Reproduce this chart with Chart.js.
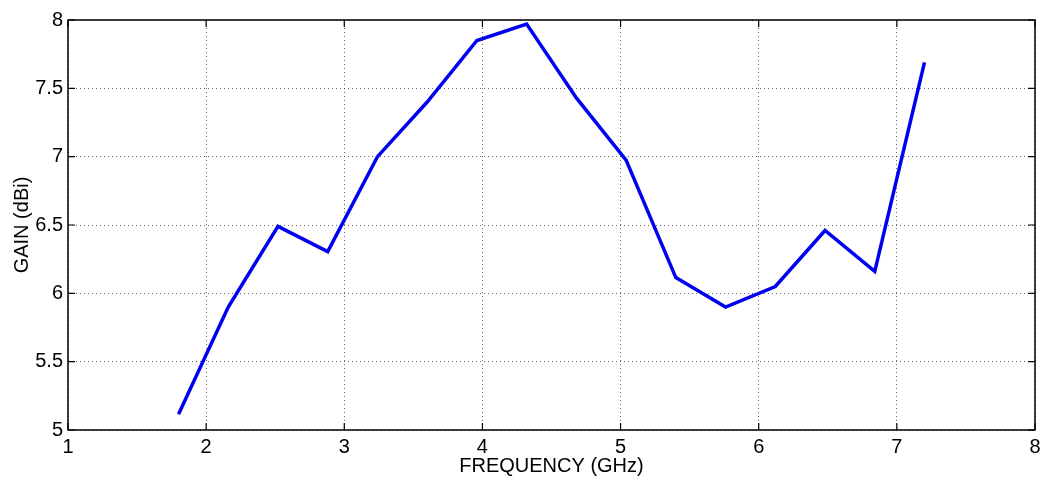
<!DOCTYPE html>
<html>
<head>
<meta charset="utf-8">
<script src="https://cdn.jsdelivr.net/npm/chart.js@4"></script>
<style>
html,body{margin:0;padding:0;background:#fff;}
#wrap{width:1041px;height:478px;}
</style>
</head>
<body>
<div id="wrap"><canvas id="c" width="1041" height="478"></canvas></div>
<script>
const freqGHz = [1.8, 2.16, 2.52, 2.88, 3.24, 3.6, 3.96, 4.32, 4.68, 5.04, 5.4, 5.76, 6.12, 6.48, 6.84, 7.2];
const gainDBi = [5.115, 5.90, 6.49, 6.305, 7.0, 7.40, 7.85, 7.97, 7.43, 6.975, 6.115, 5.90, 6.05, 6.46, 6.16, 7.69];
const xTitle = 'FREQUENCY (GHz)';
const yTitle = 'GAIN (dBi)';

const FONT = '"Liberation Sans", Arial, sans-serif';

const boxPlugin = {
  id: 'matlabBox',
  afterDatasetsDraw(chart) {
    const {ctx, chartArea: a, scales} = chart;
    ctx.save();
    ctx.strokeStyle = '#000';
    ctx.lineWidth = 1.2;
    const tl = 7;
    ctx.beginPath();
    scales.x.ticks.forEach(t => {
      const px = scales.x.getPixelForValue(t.value);
      ctx.moveTo(px, a.bottom); ctx.lineTo(px, a.bottom - tl);
      ctx.moveTo(px, a.top); ctx.lineTo(px, a.top + tl);
    });
    scales.y.ticks.forEach(t => {
      const py = scales.y.getPixelForValue(t.value);
      ctx.moveTo(a.left, py); ctx.lineTo(a.left + tl, py);
      ctx.moveTo(a.right, py); ctx.lineTo(a.right - tl, py);
    });
    ctx.stroke();
    ctx.lineWidth = 1.5;
    ctx.strokeRect(a.left, a.top, a.right - a.left, a.bottom - a.top);
    ctx.restore();
  }
};

new Chart(document.getElementById('c'), {
  type: 'line',
  data: {
    datasets: [{
      data: freqGHz.map((f, i) => ({x: f, y: gainDBi[i]})),
      borderColor: 'rgb(0,0,240)',
      borderWidth: 3.5,
      pointRadius: 0,
      tension: 0,
      fill: false,
      clip: false
    }]
  },
  options: {
    responsive: false,
    animation: false,
    devicePixelRatio: 1,
    layout: {padding: {top: 20, right: 0, left: 0, bottom: 0}},
    plugins: {legend: {display: false}, tooltip: {enabled: false}},
    scales: {
      x: {
        type: 'linear',
        min: 1, max: 8,
        afterFit(s) { s.height = 48; s.paddingRight = 6; },
        ticks: {stepSize: 1, color: '#000', padding: 5, font: {family: FONT, size: 20}, maxRotation: 0},
        grid: {color: 'rgba(0,0,0,0.6)', lineWidth: 1, drawTicks: false, tickLength: 0},
        border: {display: false, dash: [1, 3]},
        title: {display: true, text: xTitle, color: '#000', font: {family: FONT, size: 20}, padding: {top: 0, bottom: 0}}
      },
      y: {
        type: 'linear',
        min: 5, max: 8,
        afterFit(s) { s.width = 68; },
        ticks: {stepSize: 0.5, color: '#000', padding: 5, font: {family: FONT, size: 20},
          callback: v => String(Math.round(v * 10) / 10)},
        grid: {color: 'rgba(0,0,0,0.6)', lineWidth: 1, drawTicks: false, tickLength: 0},
        border: {display: false, dash: [1, 3]},
        title: {display: true, text: yTitle, color: '#000', font: {family: FONT, size: 20}, padding: {top: 10, bottom: 0}}
      }
    }
  },
  plugins: [boxPlugin]
});
</script>
</body>
</html>
